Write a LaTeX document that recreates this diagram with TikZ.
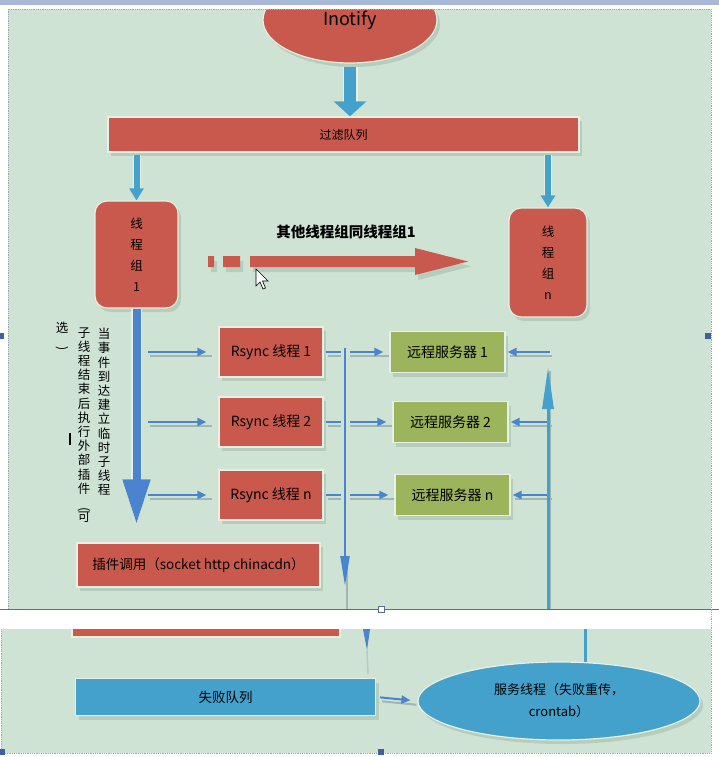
\documentclass[tikz,border=0pt]{standalone}
\usepackage{fontspec}
\setmainfont{Noto Sans CJK SC}
\definecolor{canvasgreen}{RGB}{207,227,213}
\definecolor{rimgreen}{RGB}{230,240,228}
\definecolor{shadegreen}{RGB}{182,204,189}
\definecolor{echogray}{RGB}{160,182,176}
\definecolor{taskred}{RGB}{201,89,76}
\definecolor{serverolive}{RGB}{156,181,92}
\definecolor{queueblue}{RGB}{68,161,204}
\definecolor{linkblue}{RGB}{74,132,208}
\definecolor{framegray}{RGB}{88,112,138}
\definecolor{topbar}{RGB}{168,184,216}
\definecolor{handleblue}{RGB}{60,96,160}
\usetikzlibrary{shapes.geometric,arrows.meta,shadows}

\begin{document}
\begin{tikzpicture}[x=1pt, y=-1pt,
    every node/.style={align=center, inner sep=0pt},
    card/.style={draw=rimgreen, line width=1.2pt,
      drop shadow={shadow xshift=3pt, shadow yshift=-4pt, fill=shadegreen, opacity=1}},
    redcard/.style={card, fill=taskred},
    olivecard/.style={card, fill=serverolive},
    bluecard/.style={card, fill=queueblue},
    rsyncbox/.style={redcard, minimum width=104pt, minimum height=50pt, font=\fontsize{14}{16}\selectfont},
    serverbox/.style={olivecard, minimum width=115pt, minimum height=41pt, font=\fontsize{14}{16}\selectfont},
    groupbox/.style={redcard, rounded corners=12pt, font=\fontsize{12.5}{21}\selectfont},
    vnote/.style={font=\fontsize{12.5}{14.2}\selectfont},
    rim/.style={preaction={draw=rimgreen, line width=#1}},
    echo/.style={draw=echogray, line width=2pt, transform canvas={shift={(2pt,-4pt)}}},
    fatlink/.style={rim=15pt, draw=queueblue, line width=12pt, -{Triangle[width=32pt,length=15pt]}},
    droplink/.style={rim=8pt, draw=queueblue, line width=6pt, -{Triangle[width=14pt,length=12pt]}},
    flowlink/.style={draw=linkblue, line width=2pt, -{Triangle[width=8pt,length=9pt]}},
    gap/.style={preaction={draw=canvasgreen, line width=9pt}}]
  \useasboundingbox (0,0) rectangle (719,757);
  \fill[white] (0,0) rectangle (719,757);
  \fill[canvasgreen] (8,9) rectangle (711,609);
  \fill[canvasgreen] (1,629) rectangle (711,753);

  % queue and thread groups
  \node[redcard, ellipse, minimum width=174pt, minimum height=86pt,
        font=\fontsize{18}{20}\selectfont] (inotify) at (350,20) {Inotify};
  \node[redcard, minimum width=471pt, minimum height=35pt,
        font=\fontsize{12}{14}\selectfont] (filter) at (343.5,134.5) {过滤队列};
  \node[groupbox, minimum width=83pt, minimum height=107pt] (group1) at (136.5,254.5) {线\\程\\组\\1};
  \node[groupbox, minimum width=78pt, minimum height=109pt] (groupn) at (548,262.5) {线\\程\\组\\n};
  \node[font=\bfseries\fontsize{14.5}{16}\selectfont] (others) at (346,232) {其他线程组同线程组1};

  \draw[fatlink, shorten <=3pt] (inotify.south) -- (inotify.south |- filter.north);
  \draw[droplink, shorten <=2pt] (filter.south -| group1.north) -- (group1.north);
  \draw[droplink, shorten <=2pt] (filter.south -| groupn.north) -- (groupn.north);

  % other groups
  \begin{scope}[transform canvas={shift={(3pt,-5pt)}}]
    \fill[shadegreen] (208,256) rectangle (214,267) (223,256) rectangle (240,267);
    \fill[shadegreen] (250,256) -- (415,256) -- (415,248) -- (468,261.5)
      -- (415,275) -- (415,267) -- (250,267) -- cycle;
  \end{scope}
  \fill[taskred] (208,256) rectangle (214,267) (223,256) rectangle (240,267);
  \fill[taskred] (250,256) -- (415,256) -- (415,248) -- (468,261.5)
    -- (415,275) -- (415,267) -- (250,267) -- cycle;
  \draw[black, fill=white, line width=0.6pt] (256,269) -- ++(0,17) -- ++(4,-4) -- ++(3,7)
    -- ++(2.5,-1) -- ++(-3,-7) -- ++(5.5,0) -- cycle;

  % rsync threads and servers
  \node[redcard, minimum width=243pt, minimum height=44pt,
        font=\fontsize{13.5}{16}\selectfont] (plugin) at (198.5,565) {插件调用（socket http chinacdn）};
  \foreach \k/\y/\sx in {1/352/447.5, 2/422/450.5, n/495/452.5} {
    \node[rsyncbox] (rsync\k) at (271,\y) {Rsync 线程 \k};
    \node[serverbox] (server\k) at (\sx,\y) {远程服务器 \k};
  }
  \coordinate (tap) at (148,0);
  \coordinate (rise) at (550,0);
  \coordinate (sinkTop) at (345,348);
  \coordinate (sinkEnd) at (345,586);
  \coordinate (riseFoot) at (548,609);
  \coordinate (riseTip) at (548,367);
  \foreach \k in {1,2,n} {
    \draw[echo, shorten >=8pt] (rsync\k.west -| tap) -- (rsync\k.west);
    \draw[flowlink, shorten >=12pt] (rsync\k.west -| tap) -- (rsync\k.west);
    \draw[echo, shorten <=2pt, shorten >=2pt] (rsync\k.east) -- (server\k.west);
    \draw[flowlink, shorten <=2pt, shorten >=6pt] (rsync\k.east) -- (server\k.west);
    \draw[echo, shorten >=2pt] (server\k.east -| rise) -- (server\k.east);
    \draw[flowlink, shorten >=2pt] (server\k.east -| rise) -- (server\k.east);
  }
  \draw[echo] (sinkTop) -- (sinkEnd |- riseFoot);
  \draw[gap, draw=linkblue, line width=2pt, -{Triangle[width=9pt,length=30pt]}] (sinkTop) -- (sinkEnd);
  \draw[echo] (riseFoot) -- (riseTip);
  \draw[draw=queueblue, line width=3pt, -{Triangle[width=11pt,length=42pt]}] (riseFoot) -- (riseTip);
  \draw[rim=11pt, draw=linkblue, line width=8pt, -{Triangle[width=26pt,length=45pt]}, shorten >=18pt]
    (group1.south) -- (group1.south |- plugin.north);

  \node[vnote] (notea) at (104,412) {当\\事\\件\\到\\达\\建\\立\\临\\时\\子\\线\\程};
  \node[vnote] (noteb) at (84,425) {子\\线\\程\\结\\束\\后\\执\\行\\外\\部\\插\\件\\\rotatebox{-90}{(}\\可};
  \node[vnote] (notec) at (62,336) {选\\\rotatebox{-90}{)}};
  \fill[black] (69,433) rectangle (71,445);

  % failure handling
  \fill[rimgreen] (71,626) rectangle (341,638);
  \fill[taskred] (73,626) rectangle (339,636);
  \fill[linkblue] (363,629) -- (370,629) -- (367,650) -- cycle;
  \draw[shadegreen, line width=1.5pt] (367,650) -- (368,674);
  \draw[queueblue, line width=3pt] (585,629) -- (585,665);
  \node[bluecard, minimum width=300pt, minimum height=37pt,
        font=\fontsize{13.5}{16}\selectfont] (failq) at (225.5,697) {失败队列};
  \node[bluecard, ellipse, minimum width=282pt, minimum height=78pt,
        font=\fontsize{13}{22}\selectfont] (service) at (559,701) {服务线程（失败重传，\\crontab）};
  \draw[echo, shorten <=4pt, shorten >=3pt] (failq.east) -- (service.west);
  \draw[flowlink, shorten <=4pt, shorten >=7pt] (failq.east) -- (service.west);

  % page frame
  \fill[white] (0,0) rectangle (719,9);
  \fill[topbar] (0,0) rectangle (719,5);
  \fill[white] (0,609) rectangle (719,629);
  \draw[framegray, line width=1pt] (0,609) -- (719,609);
  \draw[framegray, fill=white, line width=0.6pt] (378,606) rectangle (384,612);
  \draw[framegray!60, densely dotted, line width=0.8pt] (8,609) -- (8,9) -- (711,9) -- (711,753) -- (1,753) -- (1,629);
  \fill[handleblue] (0,333) rectangle (4,339);
  \fill[handleblue] (705,333) rectangle (711,339);
  \fill[handleblue] (0,749) rectangle (5,755);
  \fill[handleblue] (378,749) rectangle (384,755);
\end{tikzpicture}
\end{document}
